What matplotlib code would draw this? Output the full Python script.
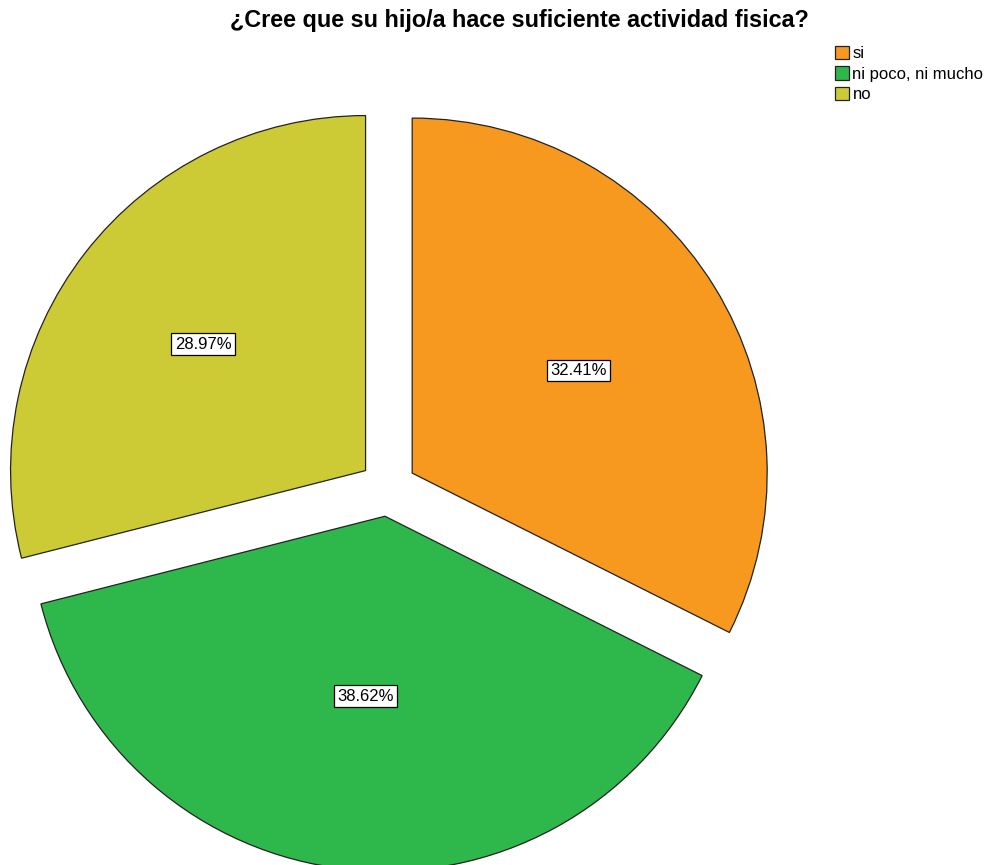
import numpy as np
import matplotlib.pyplot as plt

plt.rcParams["font.family"] = ["Liberation Sans", "DejaVu Sans"]

labels = ["si", "ni poco, ni mucho", "no"]
values = [32.41, 38.62, 28.97]
colors = ["#f7991f", "#2eb74a", "#cdcb35"]

fig = plt.figure(figsize=(9.89, 8.65), dpi=100)
ax = fig.add_axes([0, 0, 1, 1])

r_px = 355
cx, cy = 388, 488

wedges, texts, autotexts = ax.pie(
    values,
    colors=colors,
    startangle=90,
    counterclock=False,
    explode=[0.08, 0.08, 0.08],
    autopct="%.2f%%",
    pctdistance=0.55,
    wedgeprops=dict(edgecolor="#222222", linewidth=0.9),
    textprops=dict(fontsize=12),
)

# label distance from each slice's apex, roughly where the source puts them
label_dist = [0.55, 0.51, 0.58]
for w, t, d in zip(wedges, autotexts, label_dist):
    mid = np.deg2rad((w.theta1 + w.theta2) / 2)
    x0, y0 = w.center
    t.set_position((x0 + d * np.cos(mid), y0 + d * np.sin(mid)))
    t.set_bbox(dict(boxstyle="square,pad=0.2", facecolor="white", edgecolor="black", linewidth=0.9))

ax.set_xlim(-cx / r_px, (989 - cx) / r_px)
ax.set_ylim(-(865 - cy) / r_px, cy / r_px)
ax.axis("off")

fig.text(0.525, 1 - 20 / 865, "¿Cree que su hijo/a hace suficiente actividad fisica?",
         ha="center", va="center", fontsize=16.8, fontweight="bold")

fig.legend(wedges, labels, loc="upper left", bbox_to_anchor=(835 / 989, 1 - 46 / 865),
           frameon=False, fontsize=12, handlelength=0.85, handleheight=0.85,
           handletextpad=0.2, labelspacing=0.3, borderpad=0, borderaxespad=0)

fig.savefig("out.png", dpi=100)
